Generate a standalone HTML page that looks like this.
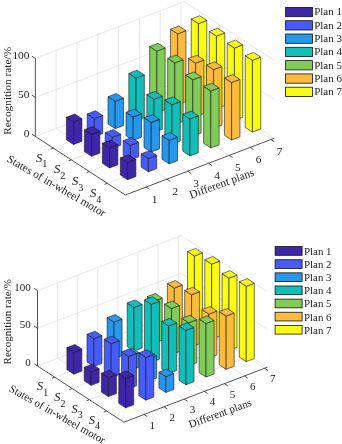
<!DOCTYPE html><html><head><meta charset="utf-8"><title>Recognition rate</title><style>html,body{margin:0;padding:0;background:#fff}svg{display:block}text{font-family:"Liberation Serif","DejaVu Serif",serif;fill:#1a1a1a}</style></head><body>
<svg width="342" height="444" viewBox="0 0 342 444">
<rect width="342" height="444" fill="#fff"/>
<g><path d="M56.16,128.47 L56.16,50.47" stroke="#dcdcdc" stroke-width="0.7" fill="none"/>
<path d="M56.16,128.47 L146.11,187.07" stroke="#dcdcdc" stroke-width="0.7" fill="none"/>
<path d="M76.97,120.54 L76.97,42.54" stroke="#dcdcdc" stroke-width="0.7" fill="none"/>
<path d="M76.97,120.54 L166.92,179.14" stroke="#dcdcdc" stroke-width="0.7" fill="none"/>
<path d="M97.78,112.61 L97.78,34.61" stroke="#dcdcdc" stroke-width="0.7" fill="none"/>
<path d="M97.78,112.61 L187.73,171.21" stroke="#dcdcdc" stroke-width="0.7" fill="none"/>
<path d="M118.59,104.68 L118.59,26.68" stroke="#dcdcdc" stroke-width="0.7" fill="none"/>
<path d="M118.59,104.68 L208.54,163.28" stroke="#dcdcdc" stroke-width="0.7" fill="none"/>
<path d="M139.41,96.75 L139.41,18.75" stroke="#dcdcdc" stroke-width="0.7" fill="none"/>
<path d="M139.41,96.75 L229.36,155.35" stroke="#dcdcdc" stroke-width="0.7" fill="none"/>
<path d="M160.22,88.82 L160.22,10.82" stroke="#dcdcdc" stroke-width="0.7" fill="none"/>
<path d="M160.22,88.82 L250.17,147.42" stroke="#dcdcdc" stroke-width="0.7" fill="none"/>
<path d="M181.03,80.89 L181.03,2.89" stroke="#dcdcdc" stroke-width="0.7" fill="none"/>
<path d="M181.03,80.89 L270.98,139.49" stroke="#dcdcdc" stroke-width="0.7" fill="none"/>
<path d="M202.14,91.42 L202.14,13.42" stroke="#dcdcdc" stroke-width="0.7" fill="none"/>
<path d="M53.34,148.12 L202.14,91.42" stroke="#dcdcdc" stroke-width="0.7" fill="none"/>
<path d="M220.13,103.14 L220.13,25.14" stroke="#dcdcdc" stroke-width="0.7" fill="none"/>
<path d="M71.33,159.84 L220.13,103.14" stroke="#dcdcdc" stroke-width="0.7" fill="none"/>
<path d="M238.12,114.86 L238.12,36.86" stroke="#dcdcdc" stroke-width="0.7" fill="none"/>
<path d="M89.32,171.56 L238.12,114.86" stroke="#dcdcdc" stroke-width="0.7" fill="none"/>
<path d="M256.11,126.58 L256.11,48.58" stroke="#dcdcdc" stroke-width="0.7" fill="none"/>
<path d="M107.31,183.28 L256.11,126.58" stroke="#dcdcdc" stroke-width="0.7" fill="none"/>
<path d="M35.35,136.40 L184.15,79.70 L274.10,138.30" stroke="#dcdcdc" stroke-width="0.7" fill="none"/>
<path d="M35.35,97.40 L184.15,40.70 L274.10,99.30" stroke="#dcdcdc" stroke-width="0.7" fill="none"/>
<path d="M35.35,58.40 L184.15,1.70 L274.10,60.30" stroke="#dcdcdc" stroke-width="0.7" fill="none"/>
<path d="M35.35,58.40 L35.35,136.40 L125.30,195.00 L274.10,138.30" stroke="#262626" stroke-width="0.8" fill="none"/>
<path d="M146.11,187.07 L149.46,189.25" stroke="#262626" stroke-width="0.8" fill="none"/>
<path d="M166.92,179.14 L170.27,181.32" stroke="#262626" stroke-width="0.8" fill="none"/>
<path d="M187.73,171.21 L191.09,173.39" stroke="#262626" stroke-width="0.8" fill="none"/>
<path d="M208.54,163.28 L211.90,165.46" stroke="#262626" stroke-width="0.8" fill="none"/>
<path d="M229.36,155.35 L232.71,157.53" stroke="#262626" stroke-width="0.8" fill="none"/>
<path d="M250.17,147.42 L253.52,149.60" stroke="#262626" stroke-width="0.8" fill="none"/>
<path d="M270.98,139.49 L274.33,141.67" stroke="#262626" stroke-width="0.8" fill="none"/>
<path d="M53.34,148.12 L50.54,149.19" stroke="#262626" stroke-width="0.8" fill="none"/>
<path d="M71.33,159.84 L68.53,160.91" stroke="#262626" stroke-width="0.8" fill="none"/>
<path d="M89.32,171.56 L86.52,172.63" stroke="#262626" stroke-width="0.8" fill="none"/>
<path d="M107.31,183.28 L104.51,184.35" stroke="#262626" stroke-width="0.8" fill="none"/>
<path d="M35.35,136.40 L32.00,134.22" stroke="#262626" stroke-width="0.8" fill="none"/>
<path d="M35.35,97.40 L32.00,95.22" stroke="#262626" stroke-width="0.8" fill="none"/>
<path d="M35.35,58.40 L32.00,56.22" stroke="#262626" stroke-width="0.8" fill="none"/>
<polygon points="191.26,92.25 198.45,96.94 198.45,23.62 191.26,18.93" fill="#F9FB15" stroke="#1a1a1a" stroke-width="0.6" stroke-linejoin="round"/>
<polygon points="198.45,96.94 206.78,93.77 206.78,20.45 198.45,23.62" fill="#F9FB15" stroke="#1a1a1a" stroke-width="0.6" stroke-linejoin="round"/>
<polygon points="191.26,18.93 198.45,23.62 206.78,20.45 199.58,15.76" fill="#F9FB15" stroke="#1a1a1a" stroke-width="0.6" stroke-linejoin="round"/>
<polygon points="170.45,100.18 177.64,104.87 177.64,33.89 170.45,29.20" fill="#FBBC3D" stroke="#1a1a1a" stroke-width="0.6" stroke-linejoin="round"/>
<polygon points="177.64,104.87 185.97,101.70 185.97,30.72 177.64,33.89" fill="#FBBC3D" stroke="#1a1a1a" stroke-width="0.6" stroke-linejoin="round"/>
<polygon points="170.45,29.20 177.64,33.89 185.97,30.72 178.77,26.03" fill="#FBBC3D" stroke="#1a1a1a" stroke-width="0.6" stroke-linejoin="round"/>
<polygon points="149.64,108.11 156.83,112.80 156.83,51.18 149.64,46.49" fill="#81CC59" stroke="#1a1a1a" stroke-width="0.6" stroke-linejoin="round"/>
<polygon points="156.83,112.80 165.16,109.63 165.16,48.01 156.83,51.18" fill="#81CC59" stroke="#1a1a1a" stroke-width="0.6" stroke-linejoin="round"/>
<polygon points="149.64,46.49 156.83,51.18 165.16,48.01 157.96,43.32" fill="#81CC59" stroke="#1a1a1a" stroke-width="0.6" stroke-linejoin="round"/>
<polygon points="128.82,116.04 136.02,120.73 136.02,78.06 128.82,73.38" fill="#12BEB9" stroke="#1a1a1a" stroke-width="0.6" stroke-linejoin="round"/>
<polygon points="136.02,120.73 144.34,117.56 144.34,74.89 136.02,78.06" fill="#12BEB9" stroke="#1a1a1a" stroke-width="0.6" stroke-linejoin="round"/>
<polygon points="128.82,73.38 136.02,78.06 144.34,74.89 137.15,70.20" fill="#12BEB9" stroke="#1a1a1a" stroke-width="0.6" stroke-linejoin="round"/>
<polygon points="108.01,123.97 115.21,128.66 115.21,101.36 108.01,96.67" fill="#2797EB" stroke="#1a1a1a" stroke-width="0.6" stroke-linejoin="round"/>
<polygon points="115.21,128.66 123.53,125.49 123.53,98.19 115.21,101.36" fill="#2797EB" stroke="#1a1a1a" stroke-width="0.6" stroke-linejoin="round"/>
<polygon points="108.01,96.67 115.21,101.36 123.53,98.19 116.34,93.50" fill="#2797EB" stroke="#1a1a1a" stroke-width="0.6" stroke-linejoin="round"/>
<polygon points="87.20,131.90 94.40,136.59 94.40,118.65 87.20,113.96" fill="#475BF9" stroke="#1a1a1a" stroke-width="0.6" stroke-linejoin="round"/>
<polygon points="94.40,136.59 102.72,133.42 102.72,115.48 94.40,118.65" fill="#475BF9" stroke="#1a1a1a" stroke-width="0.6" stroke-linejoin="round"/>
<polygon points="87.20,113.96 94.40,118.65 102.72,115.48 95.53,110.79" fill="#475BF9" stroke="#1a1a1a" stroke-width="0.6" stroke-linejoin="round"/>
<polygon points="66.39,139.83 73.59,144.52 73.59,121.90 66.39,117.21" fill="#3E26A8" stroke="#1a1a1a" stroke-width="0.6" stroke-linejoin="round"/>
<polygon points="73.59,144.52 81.91,141.35 81.91,118.73 73.59,121.90" fill="#3E26A8" stroke="#1a1a1a" stroke-width="0.6" stroke-linejoin="round"/>
<polygon points="66.39,117.21 73.59,121.90 81.91,118.73 74.72,114.04" fill="#3E26A8" stroke="#1a1a1a" stroke-width="0.6" stroke-linejoin="round"/>
<polygon points="209.25,103.97 216.44,108.66 216.44,36.12 209.25,31.43" fill="#F9FB15" stroke="#1a1a1a" stroke-width="0.6" stroke-linejoin="round"/>
<polygon points="216.44,108.66 224.77,105.49 224.77,32.95 216.44,36.12" fill="#F9FB15" stroke="#1a1a1a" stroke-width="0.6" stroke-linejoin="round"/>
<polygon points="209.25,31.43 216.44,36.12 224.77,32.95 217.57,28.26" fill="#F9FB15" stroke="#1a1a1a" stroke-width="0.6" stroke-linejoin="round"/>
<polygon points="188.44,111.90 195.63,116.59 195.63,63.16 188.44,58.47" fill="#FBBC3D" stroke="#1a1a1a" stroke-width="0.6" stroke-linejoin="round"/>
<polygon points="195.63,116.59 203.96,113.42 203.96,59.99 195.63,63.16" fill="#FBBC3D" stroke="#1a1a1a" stroke-width="0.6" stroke-linejoin="round"/>
<polygon points="188.44,58.47 195.63,63.16 203.96,59.99 196.76,55.30" fill="#FBBC3D" stroke="#1a1a1a" stroke-width="0.6" stroke-linejoin="round"/>
<polygon points="167.63,119.83 174.82,124.52 174.82,62.90 167.63,58.21" fill="#81CC59" stroke="#1a1a1a" stroke-width="0.6" stroke-linejoin="round"/>
<polygon points="174.82,124.52 183.15,121.35 183.15,59.73 174.82,62.90" fill="#81CC59" stroke="#1a1a1a" stroke-width="0.6" stroke-linejoin="round"/>
<polygon points="167.63,58.21 174.82,62.90 183.15,59.73 175.95,55.04" fill="#81CC59" stroke="#1a1a1a" stroke-width="0.6" stroke-linejoin="round"/>
<polygon points="146.81,127.76 154.01,132.45 154.01,99.30 146.81,94.61" fill="#12BEB9" stroke="#1a1a1a" stroke-width="0.6" stroke-linejoin="round"/>
<polygon points="154.01,132.45 162.33,129.28 162.33,96.13 154.01,99.30" fill="#12BEB9" stroke="#1a1a1a" stroke-width="0.6" stroke-linejoin="round"/>
<polygon points="146.81,94.61 154.01,99.30 162.33,96.13 155.14,91.44" fill="#12BEB9" stroke="#1a1a1a" stroke-width="0.6" stroke-linejoin="round"/>
<polygon points="126.00,135.69 133.20,140.38 133.20,116.98 126.00,112.29" fill="#2797EB" stroke="#1a1a1a" stroke-width="0.6" stroke-linejoin="round"/>
<polygon points="133.20,140.38 141.52,137.21 141.52,113.81 133.20,116.98" fill="#2797EB" stroke="#1a1a1a" stroke-width="0.6" stroke-linejoin="round"/>
<polygon points="126.00,112.29 133.20,116.98 141.52,113.81 134.33,109.12" fill="#2797EB" stroke="#1a1a1a" stroke-width="0.6" stroke-linejoin="round"/>
<polygon points="105.19,143.62 112.39,148.31 112.39,137.39 105.19,132.70" fill="#475BF9" stroke="#1a1a1a" stroke-width="0.6" stroke-linejoin="round"/>
<polygon points="112.39,148.31 120.71,145.14 120.71,134.22 112.39,137.39" fill="#475BF9" stroke="#1a1a1a" stroke-width="0.6" stroke-linejoin="round"/>
<polygon points="105.19,132.70 112.39,137.39 120.71,134.22 113.52,129.53" fill="#475BF9" stroke="#1a1a1a" stroke-width="0.6" stroke-linejoin="round"/>
<polygon points="84.38,151.55 91.58,156.24 91.58,134.40 84.38,129.71" fill="#3E26A8" stroke="#1a1a1a" stroke-width="0.6" stroke-linejoin="round"/>
<polygon points="91.58,156.24 99.90,153.07 99.90,131.23 91.58,134.40" fill="#3E26A8" stroke="#1a1a1a" stroke-width="0.6" stroke-linejoin="round"/>
<polygon points="84.38,129.71 91.58,134.40 99.90,131.23 92.71,126.54" fill="#3E26A8" stroke="#1a1a1a" stroke-width="0.6" stroke-linejoin="round"/>
<polygon points="227.24,115.69 234.43,120.38 234.43,48.00 227.24,43.31" fill="#F9FB15" stroke="#1a1a1a" stroke-width="0.6" stroke-linejoin="round"/>
<polygon points="234.43,120.38 242.76,117.21 242.76,44.82 234.43,48.00" fill="#F9FB15" stroke="#1a1a1a" stroke-width="0.6" stroke-linejoin="round"/>
<polygon points="227.24,43.31 234.43,48.00 242.76,44.82 235.56,40.14" fill="#F9FB15" stroke="#1a1a1a" stroke-width="0.6" stroke-linejoin="round"/>
<polygon points="206.43,123.62 213.62,128.31 213.62,69.65 206.43,64.97" fill="#FBBC3D" stroke="#1a1a1a" stroke-width="0.6" stroke-linejoin="round"/>
<polygon points="213.62,128.31 221.95,125.14 221.95,66.48 213.62,69.65" fill="#FBBC3D" stroke="#1a1a1a" stroke-width="0.6" stroke-linejoin="round"/>
<polygon points="206.43,64.97 213.62,69.65 221.95,66.48 214.75,61.79" fill="#FBBC3D" stroke="#1a1a1a" stroke-width="0.6" stroke-linejoin="round"/>
<polygon points="185.62,131.55 192.81,136.24 192.81,79.77 185.62,75.08" fill="#81CC59" stroke="#1a1a1a" stroke-width="0.6" stroke-linejoin="round"/>
<polygon points="192.81,136.24 201.14,133.07 201.14,76.60 192.81,79.77" fill="#81CC59" stroke="#1a1a1a" stroke-width="0.6" stroke-linejoin="round"/>
<polygon points="185.62,75.08 192.81,79.77 201.14,76.60 193.94,71.91" fill="#81CC59" stroke="#1a1a1a" stroke-width="0.6" stroke-linejoin="round"/>
<polygon points="164.80,139.48 172.00,144.17 172.00,104.78 164.80,100.09" fill="#12BEB9" stroke="#1a1a1a" stroke-width="0.6" stroke-linejoin="round"/>
<polygon points="172.00,144.17 180.32,141.00 180.32,101.61 172.00,104.78" fill="#12BEB9" stroke="#1a1a1a" stroke-width="0.6" stroke-linejoin="round"/>
<polygon points="164.80,100.09 172.00,104.78 180.32,101.61 173.13,96.92" fill="#12BEB9" stroke="#1a1a1a" stroke-width="0.6" stroke-linejoin="round"/>
<polygon points="143.99,147.41 151.19,152.10 151.19,122.46 143.99,117.77" fill="#2797EB" stroke="#1a1a1a" stroke-width="0.6" stroke-linejoin="round"/>
<polygon points="151.19,152.10 159.51,148.93 159.51,119.29 151.19,122.46" fill="#2797EB" stroke="#1a1a1a" stroke-width="0.6" stroke-linejoin="round"/>
<polygon points="143.99,117.77 151.19,122.46 159.51,119.29 152.32,114.60" fill="#2797EB" stroke="#1a1a1a" stroke-width="0.6" stroke-linejoin="round"/>
<polygon points="123.18,155.34 130.38,160.03 130.38,145.44 123.18,140.76" fill="#475BF9" stroke="#1a1a1a" stroke-width="0.6" stroke-linejoin="round"/>
<polygon points="130.38,160.03 138.70,156.86 138.70,142.27 130.38,145.44" fill="#475BF9" stroke="#1a1a1a" stroke-width="0.6" stroke-linejoin="round"/>
<polygon points="123.18,140.76 130.38,145.44 138.70,142.27 131.51,137.58" fill="#475BF9" stroke="#1a1a1a" stroke-width="0.6" stroke-linejoin="round"/>
<polygon points="102.37,163.27 109.57,167.96 109.57,147.91 102.37,143.23" fill="#3E26A8" stroke="#1a1a1a" stroke-width="0.6" stroke-linejoin="round"/>
<polygon points="109.57,167.96 117.89,164.79 117.89,144.74 109.57,147.91" fill="#3E26A8" stroke="#1a1a1a" stroke-width="0.6" stroke-linejoin="round"/>
<polygon points="102.37,143.23 109.57,147.91 117.89,144.74 110.70,140.05" fill="#3E26A8" stroke="#1a1a1a" stroke-width="0.6" stroke-linejoin="round"/>
<polygon points="245.23,127.41 252.42,132.10 252.42,60.34 245.23,55.65" fill="#F9FB15" stroke="#1a1a1a" stroke-width="0.6" stroke-linejoin="round"/>
<polygon points="252.42,132.10 260.75,128.93 260.75,57.17 252.42,60.34" fill="#F9FB15" stroke="#1a1a1a" stroke-width="0.6" stroke-linejoin="round"/>
<polygon points="245.23,55.65 252.42,60.34 260.75,57.17 253.55,52.48" fill="#F9FB15" stroke="#1a1a1a" stroke-width="0.6" stroke-linejoin="round"/>
<polygon points="224.42,135.34 231.61,140.03 231.61,82.54 224.42,77.86" fill="#FBBC3D" stroke="#1a1a1a" stroke-width="0.6" stroke-linejoin="round"/>
<polygon points="231.61,140.03 239.94,136.86 239.94,79.37 231.61,82.54" fill="#FBBC3D" stroke="#1a1a1a" stroke-width="0.6" stroke-linejoin="round"/>
<polygon points="224.42,77.86 231.61,82.54 239.94,79.37 232.74,74.68" fill="#FBBC3D" stroke="#1a1a1a" stroke-width="0.6" stroke-linejoin="round"/>
<polygon points="203.61,143.27 210.80,147.96 210.80,91.02 203.61,86.33" fill="#81CC59" stroke="#1a1a1a" stroke-width="0.6" stroke-linejoin="round"/>
<polygon points="210.80,147.96 219.13,144.79 219.13,87.85 210.80,91.02" fill="#81CC59" stroke="#1a1a1a" stroke-width="0.6" stroke-linejoin="round"/>
<polygon points="203.61,86.33 210.80,91.02 219.13,87.85 211.93,83.16" fill="#81CC59" stroke="#1a1a1a" stroke-width="0.6" stroke-linejoin="round"/>
<polygon points="182.79,151.20 189.99,155.89 189.99,119.00 182.79,114.31" fill="#12BEB9" stroke="#1a1a1a" stroke-width="0.6" stroke-linejoin="round"/>
<polygon points="189.99,155.89 198.31,152.72 198.31,115.82 189.99,119.00" fill="#12BEB9" stroke="#1a1a1a" stroke-width="0.6" stroke-linejoin="round"/>
<polygon points="182.79,114.31 189.99,119.00 198.31,115.82 191.12,111.14" fill="#12BEB9" stroke="#1a1a1a" stroke-width="0.6" stroke-linejoin="round"/>
<polygon points="161.98,159.13 169.18,163.82 169.18,140.42 161.98,135.73" fill="#2797EB" stroke="#1a1a1a" stroke-width="0.6" stroke-linejoin="round"/>
<polygon points="169.18,163.82 177.50,160.65 177.50,137.25 169.18,140.42" fill="#2797EB" stroke="#1a1a1a" stroke-width="0.6" stroke-linejoin="round"/>
<polygon points="161.98,135.73 169.18,140.42 177.50,137.25 170.31,132.56" fill="#2797EB" stroke="#1a1a1a" stroke-width="0.6" stroke-linejoin="round"/>
<polygon points="141.17,167.06 148.37,171.75 148.37,158.49 141.17,153.80" fill="#475BF9" stroke="#1a1a1a" stroke-width="0.6" stroke-linejoin="round"/>
<polygon points="148.37,171.75 156.69,168.58 156.69,155.32 148.37,158.49" fill="#475BF9" stroke="#1a1a1a" stroke-width="0.6" stroke-linejoin="round"/>
<polygon points="141.17,153.80 148.37,158.49 156.69,155.32 149.50,150.63" fill="#475BF9" stroke="#1a1a1a" stroke-width="0.6" stroke-linejoin="round"/>
<polygon points="120.36,174.99 127.56,179.68 127.56,162.52 120.36,157.83" fill="#3E26A8" stroke="#1a1a1a" stroke-width="0.6" stroke-linejoin="round"/>
<polygon points="127.56,179.68 135.88,176.51 135.88,159.35 127.56,162.52" fill="#3E26A8" stroke="#1a1a1a" stroke-width="0.6" stroke-linejoin="round"/>
<polygon points="120.36,157.83 127.56,162.52 135.88,159.35 128.69,154.66" fill="#3E26A8" stroke="#1a1a1a" stroke-width="0.6" stroke-linejoin="round"/></g>
<g opacity="0.999"><text x="29.4" y="137.4" font-size="11.35" text-anchor="end">0</text>
<text x="29.4" y="98.4" font-size="11.35" text-anchor="end">50</text>
<text x="29.4" y="59.4" font-size="11.35" text-anchor="end">100</text>
<text x="154.6" y="202.6" font-size="11.35" text-anchor="middle">1</text>
<text x="175.4" y="194.6" font-size="11.35" text-anchor="middle">2</text>
<text x="196.2" y="186.7" font-size="11.35" text-anchor="middle">3</text>
<text x="217.0" y="178.8" font-size="11.35" text-anchor="middle">4</text>
<text x="237.9" y="170.8" font-size="11.35" text-anchor="middle">5</text>
<text x="258.7" y="162.9" font-size="11.35" text-anchor="middle">6</text>
<text x="279.5" y="155.0" font-size="11.35" text-anchor="middle">7</text>
<text x="41.7" y="161.6" font-size="12.71" text-anchor="middle"><tspan font-style="italic">S</tspan><tspan font-size="10.17" dy="5.72">1</tspan></text>
<text x="59.7" y="173.3" font-size="12.71" text-anchor="middle"><tspan font-style="italic">S</tspan><tspan font-size="10.17" dy="5.72">2</tspan></text>
<text x="77.7" y="185.1" font-size="12.71" text-anchor="middle"><tspan font-style="italic">S</tspan><tspan font-size="10.17" dy="5.72">3</tspan></text>
<text x="95.7" y="196.8" font-size="12.71" text-anchor="middle"><tspan font-style="italic">S</tspan><tspan font-size="10.17" dy="5.72">4</tspan></text>
<text transform="translate(223,187) rotate(-20)" font-size="11.35" text-anchor="middle">Different plans</text>
<text transform="translate(54.7,189) rotate(30)" font-size="11.35" text-anchor="middle">States of in-wheel motor</text>
<text transform="translate(11.4,90.8) rotate(-90)" font-size="11.35" text-anchor="middle">Recognition rate/%</text>
<rect x="285.6" y="7.40" width="26.8" height="9.3" fill="#3E26A8" stroke="#111" stroke-width="0.8"/>
<text x="314.2" y="15.45" font-size="11">Plan 1</text>
<rect x="285.6" y="20.70" width="26.8" height="9.3" fill="#475BF9" stroke="#111" stroke-width="0.8"/>
<text x="314.2" y="28.75" font-size="11">Plan 2</text>
<rect x="285.6" y="34.00" width="26.8" height="9.3" fill="#2797EB" stroke="#111" stroke-width="0.8"/>
<text x="314.2" y="42.05" font-size="11">Plan 3</text>
<rect x="285.6" y="47.30" width="26.8" height="9.3" fill="#12BEB9" stroke="#111" stroke-width="0.8"/>
<text x="314.2" y="55.35" font-size="11">Plan 4</text>
<rect x="285.6" y="60.60" width="26.8" height="9.3" fill="#81CC59" stroke="#111" stroke-width="0.8"/>
<text x="314.2" y="68.65" font-size="11">Plan 5</text>
<rect x="285.6" y="73.90" width="26.8" height="9.3" fill="#FBBC3D" stroke="#111" stroke-width="0.8"/>
<text x="314.2" y="81.95" font-size="11">Plan 6</text>
<rect x="285.6" y="87.20" width="26.8" height="9.3" fill="#F9FB15" stroke="#111" stroke-width="0.8"/>
<text x="314.2" y="95.25" font-size="11">Plan 7</text></g>
<g><path d="M57.60,358.30 L57.60,282.90" stroke="#dcdcdc" stroke-width="0.7" fill="none"/>
<path d="M57.60,358.30 L144.00,414.50" stroke="#dcdcdc" stroke-width="0.7" fill="none"/>
<path d="M77.70,350.59 L77.70,275.19" stroke="#dcdcdc" stroke-width="0.7" fill="none"/>
<path d="M77.70,350.59 L164.10,406.79" stroke="#dcdcdc" stroke-width="0.7" fill="none"/>
<path d="M97.79,342.89 L97.79,267.49" stroke="#dcdcdc" stroke-width="0.7" fill="none"/>
<path d="M97.79,342.89 L184.19,399.09" stroke="#dcdcdc" stroke-width="0.7" fill="none"/>
<path d="M117.89,335.19 L117.89,259.79" stroke="#dcdcdc" stroke-width="0.7" fill="none"/>
<path d="M117.89,335.19 L204.29,391.39" stroke="#dcdcdc" stroke-width="0.7" fill="none"/>
<path d="M137.99,327.48 L137.99,252.08" stroke="#dcdcdc" stroke-width="0.7" fill="none"/>
<path d="M137.99,327.48 L224.39,383.68" stroke="#dcdcdc" stroke-width="0.7" fill="none"/>
<path d="M158.09,319.78 L158.09,244.38" stroke="#dcdcdc" stroke-width="0.7" fill="none"/>
<path d="M158.09,319.78 L244.49,375.98" stroke="#dcdcdc" stroke-width="0.7" fill="none"/>
<path d="M178.19,312.08 L178.19,236.68" stroke="#dcdcdc" stroke-width="0.7" fill="none"/>
<path d="M178.19,312.08 L264.59,368.28" stroke="#dcdcdc" stroke-width="0.7" fill="none"/>
<path d="M198.28,322.24 L198.28,246.84" stroke="#dcdcdc" stroke-width="0.7" fill="none"/>
<path d="M54.78,377.24 L198.28,322.24" stroke="#dcdcdc" stroke-width="0.7" fill="none"/>
<path d="M215.56,333.48 L215.56,258.08" stroke="#dcdcdc" stroke-width="0.7" fill="none"/>
<path d="M72.06,388.48 L215.56,333.48" stroke="#dcdcdc" stroke-width="0.7" fill="none"/>
<path d="M232.84,344.72 L232.84,269.32" stroke="#dcdcdc" stroke-width="0.7" fill="none"/>
<path d="M89.34,399.72 L232.84,344.72" stroke="#dcdcdc" stroke-width="0.7" fill="none"/>
<path d="M250.12,355.96 L250.12,280.56" stroke="#dcdcdc" stroke-width="0.7" fill="none"/>
<path d="M106.62,410.96 L250.12,355.96" stroke="#dcdcdc" stroke-width="0.7" fill="none"/>
<path d="M37.50,366.00 L181.00,311.00 L267.40,367.20" stroke="#dcdcdc" stroke-width="0.7" fill="none"/>
<path d="M37.50,328.30 L181.00,273.30 L267.40,329.50" stroke="#dcdcdc" stroke-width="0.7" fill="none"/>
<path d="M37.50,290.60 L181.00,235.60 L267.40,291.80" stroke="#dcdcdc" stroke-width="0.7" fill="none"/>
<path d="M37.50,290.60 L37.50,366.00 L123.90,422.20 L267.40,367.20" stroke="#262626" stroke-width="0.8" fill="none"/>
<path d="M144.00,414.50 L147.35,416.68" stroke="#262626" stroke-width="0.8" fill="none"/>
<path d="M164.10,406.79 L167.45,408.97" stroke="#262626" stroke-width="0.8" fill="none"/>
<path d="M184.19,399.09 L187.55,401.27" stroke="#262626" stroke-width="0.8" fill="none"/>
<path d="M204.29,391.39 L207.65,393.57" stroke="#262626" stroke-width="0.8" fill="none"/>
<path d="M224.39,383.68 L227.74,385.87" stroke="#262626" stroke-width="0.8" fill="none"/>
<path d="M244.49,375.98 L247.84,378.16" stroke="#262626" stroke-width="0.8" fill="none"/>
<path d="M264.59,368.28 L267.94,370.46" stroke="#262626" stroke-width="0.8" fill="none"/>
<path d="M54.78,377.24 L51.98,378.31" stroke="#262626" stroke-width="0.8" fill="none"/>
<path d="M72.06,388.48 L69.26,389.55" stroke="#262626" stroke-width="0.8" fill="none"/>
<path d="M89.34,399.72 L86.54,400.79" stroke="#262626" stroke-width="0.8" fill="none"/>
<path d="M106.62,410.96 L103.82,412.03" stroke="#262626" stroke-width="0.8" fill="none"/>
<path d="M37.50,366.00 L34.15,363.82" stroke="#262626" stroke-width="0.8" fill="none"/>
<path d="M37.50,328.30 L34.15,326.12" stroke="#262626" stroke-width="0.8" fill="none"/>
<path d="M37.50,290.60 L34.15,288.42" stroke="#262626" stroke-width="0.8" fill="none"/>
<polygon points="187.49,323.41 194.40,327.91 194.40,255.98 187.49,251.48" fill="#F9FB15" stroke="#1a1a1a" stroke-width="0.6" stroke-linejoin="round"/>
<polygon points="194.40,327.91 202.44,324.83 202.44,252.89 194.40,255.98" fill="#F9FB15" stroke="#1a1a1a" stroke-width="0.6" stroke-linejoin="round"/>
<polygon points="187.49,251.48 194.40,255.98 202.44,252.89 195.53,248.40" fill="#F9FB15" stroke="#1a1a1a" stroke-width="0.6" stroke-linejoin="round"/>
<polygon points="167.39,331.11 174.30,335.61 174.30,288.11 167.39,283.61" fill="#FBBC3D" stroke="#1a1a1a" stroke-width="0.6" stroke-linejoin="round"/>
<polygon points="174.30,335.61 182.34,332.53 182.34,285.03 174.30,288.11" fill="#FBBC3D" stroke="#1a1a1a" stroke-width="0.6" stroke-linejoin="round"/>
<polygon points="167.39,283.61 174.30,288.11 182.34,285.03 175.43,280.53" fill="#FBBC3D" stroke="#1a1a1a" stroke-width="0.6" stroke-linejoin="round"/>
<polygon points="147.29,338.82 154.21,343.31 154.21,301.09 147.29,296.59" fill="#81CC59" stroke="#1a1a1a" stroke-width="0.6" stroke-linejoin="round"/>
<polygon points="154.21,343.31 162.25,340.23 162.25,298.01 154.21,301.09" fill="#81CC59" stroke="#1a1a1a" stroke-width="0.6" stroke-linejoin="round"/>
<polygon points="147.29,296.59 154.21,301.09 162.25,298.01 155.33,293.51" fill="#81CC59" stroke="#1a1a1a" stroke-width="0.6" stroke-linejoin="round"/>
<polygon points="127.20,346.52 134.11,351.02 134.11,307.51 127.20,303.01" fill="#12BEB9" stroke="#1a1a1a" stroke-width="0.6" stroke-linejoin="round"/>
<polygon points="134.11,351.02 142.15,347.94 142.15,304.43 134.11,307.51" fill="#12BEB9" stroke="#1a1a1a" stroke-width="0.6" stroke-linejoin="round"/>
<polygon points="127.20,303.01 134.11,307.51 142.15,304.43 135.24,299.93" fill="#12BEB9" stroke="#1a1a1a" stroke-width="0.6" stroke-linejoin="round"/>
<polygon points="107.10,354.22 114.01,358.72 114.01,322.15 107.10,317.65" fill="#2797EB" stroke="#1a1a1a" stroke-width="0.6" stroke-linejoin="round"/>
<polygon points="114.01,358.72 122.05,355.64 122.05,319.07 114.01,322.15" fill="#2797EB" stroke="#1a1a1a" stroke-width="0.6" stroke-linejoin="round"/>
<polygon points="107.10,317.65 114.01,322.15 122.05,319.07 115.14,314.57" fill="#2797EB" stroke="#1a1a1a" stroke-width="0.6" stroke-linejoin="round"/>
<polygon points="87.00,361.93 93.91,366.42 93.91,338.75 87.00,334.25" fill="#475BF9" stroke="#1a1a1a" stroke-width="0.6" stroke-linejoin="round"/>
<polygon points="93.91,366.42 101.95,363.34 101.95,335.67 93.91,338.75" fill="#475BF9" stroke="#1a1a1a" stroke-width="0.6" stroke-linejoin="round"/>
<polygon points="87.00,334.25 93.91,338.75 101.95,335.67 95.04,331.17" fill="#475BF9" stroke="#1a1a1a" stroke-width="0.6" stroke-linejoin="round"/>
<polygon points="66.90,369.63 73.81,374.13 73.81,352.11 66.90,347.61" fill="#3E26A8" stroke="#1a1a1a" stroke-width="0.6" stroke-linejoin="round"/>
<polygon points="73.81,374.13 81.85,371.04 81.85,349.03 73.81,352.11" fill="#3E26A8" stroke="#1a1a1a" stroke-width="0.6" stroke-linejoin="round"/>
<polygon points="66.90,347.61 73.81,352.11 81.85,349.03 74.94,344.53" fill="#3E26A8" stroke="#1a1a1a" stroke-width="0.6" stroke-linejoin="round"/>
<polygon points="204.77,334.65 211.68,339.15 211.68,264.12 204.77,259.63" fill="#F9FB15" stroke="#1a1a1a" stroke-width="0.6" stroke-linejoin="round"/>
<polygon points="211.68,339.15 219.72,336.07 219.72,261.04 211.68,264.12" fill="#F9FB15" stroke="#1a1a1a" stroke-width="0.6" stroke-linejoin="round"/>
<polygon points="204.77,259.63 211.68,264.12 219.72,261.04 212.81,256.55" fill="#F9FB15" stroke="#1a1a1a" stroke-width="0.6" stroke-linejoin="round"/>
<polygon points="184.67,342.35 191.58,346.85 191.58,294.82 184.67,290.33" fill="#FBBC3D" stroke="#1a1a1a" stroke-width="0.6" stroke-linejoin="round"/>
<polygon points="191.58,346.85 199.62,343.77 199.62,291.74 191.58,294.82" fill="#FBBC3D" stroke="#1a1a1a" stroke-width="0.6" stroke-linejoin="round"/>
<polygon points="184.67,290.33 191.58,294.82 199.62,291.74 192.71,287.25" fill="#FBBC3D" stroke="#1a1a1a" stroke-width="0.6" stroke-linejoin="round"/>
<polygon points="164.57,350.06 171.49,354.55 171.49,308.56 164.57,304.06" fill="#81CC59" stroke="#1a1a1a" stroke-width="0.6" stroke-linejoin="round"/>
<polygon points="171.49,354.55 179.53,351.47 179.53,305.48 171.49,308.56" fill="#81CC59" stroke="#1a1a1a" stroke-width="0.6" stroke-linejoin="round"/>
<polygon points="164.57,304.06 171.49,308.56 179.53,305.48 172.61,300.98" fill="#81CC59" stroke="#1a1a1a" stroke-width="0.6" stroke-linejoin="round"/>
<polygon points="144.48,357.76 151.39,362.26 151.39,304.42 144.48,299.93" fill="#12BEB9" stroke="#1a1a1a" stroke-width="0.6" stroke-linejoin="round"/>
<polygon points="151.39,362.26 159.43,359.18 159.43,301.34 151.39,304.42" fill="#12BEB9" stroke="#1a1a1a" stroke-width="0.6" stroke-linejoin="round"/>
<polygon points="144.48,299.93 151.39,304.42 159.43,301.34 152.52,296.85" fill="#12BEB9" stroke="#1a1a1a" stroke-width="0.6" stroke-linejoin="round"/>
<polygon points="124.38,365.46 131.29,369.96 131.29,356.01 124.38,351.51" fill="#2797EB" stroke="#1a1a1a" stroke-width="0.6" stroke-linejoin="round"/>
<polygon points="131.29,369.96 139.33,366.88 139.33,352.93 131.29,356.01" fill="#2797EB" stroke="#1a1a1a" stroke-width="0.6" stroke-linejoin="round"/>
<polygon points="124.38,351.51 131.29,356.01 139.33,352.93 132.42,348.43" fill="#2797EB" stroke="#1a1a1a" stroke-width="0.6" stroke-linejoin="round"/>
<polygon points="104.28,373.17 111.19,377.66 111.19,343.73 104.28,339.24" fill="#475BF9" stroke="#1a1a1a" stroke-width="0.6" stroke-linejoin="round"/>
<polygon points="111.19,377.66 119.23,374.58 119.23,340.65 111.19,343.73" fill="#475BF9" stroke="#1a1a1a" stroke-width="0.6" stroke-linejoin="round"/>
<polygon points="104.28,339.24 111.19,343.73 119.23,340.65 112.32,336.16" fill="#475BF9" stroke="#1a1a1a" stroke-width="0.6" stroke-linejoin="round"/>
<polygon points="84.18,380.87 91.09,385.37 91.09,371.79 84.18,367.30" fill="#3E26A8" stroke="#1a1a1a" stroke-width="0.6" stroke-linejoin="round"/>
<polygon points="91.09,385.37 99.13,382.28 99.13,368.71 91.09,371.79" fill="#3E26A8" stroke="#1a1a1a" stroke-width="0.6" stroke-linejoin="round"/>
<polygon points="84.18,367.30 91.09,371.79 99.13,368.71 92.22,364.22" fill="#3E26A8" stroke="#1a1a1a" stroke-width="0.6" stroke-linejoin="round"/>
<polygon points="222.05,345.89 228.96,350.39 228.96,278.23 222.05,273.73" fill="#F9FB15" stroke="#1a1a1a" stroke-width="0.6" stroke-linejoin="round"/>
<polygon points="228.96,350.39 237.00,347.31 237.00,275.15 228.96,278.23" fill="#F9FB15" stroke="#1a1a1a" stroke-width="0.6" stroke-linejoin="round"/>
<polygon points="222.05,273.73 228.96,278.23 237.00,275.15 230.09,270.65" fill="#F9FB15" stroke="#1a1a1a" stroke-width="0.6" stroke-linejoin="round"/>
<polygon points="201.95,353.59 208.86,358.09 208.86,314.13 201.95,309.64" fill="#FBBC3D" stroke="#1a1a1a" stroke-width="0.6" stroke-linejoin="round"/>
<polygon points="208.86,358.09 216.90,355.01 216.90,311.05 208.86,314.13" fill="#FBBC3D" stroke="#1a1a1a" stroke-width="0.6" stroke-linejoin="round"/>
<polygon points="201.95,309.64 208.86,314.13 216.90,311.05 209.99,306.55" fill="#FBBC3D" stroke="#1a1a1a" stroke-width="0.6" stroke-linejoin="round"/>
<polygon points="181.85,361.30 188.77,365.79 188.77,322.82 181.85,318.32" fill="#81CC59" stroke="#1a1a1a" stroke-width="0.6" stroke-linejoin="round"/>
<polygon points="188.77,365.79 196.81,362.71 196.81,319.73 188.77,322.82" fill="#81CC59" stroke="#1a1a1a" stroke-width="0.6" stroke-linejoin="round"/>
<polygon points="181.85,318.32 188.77,322.82 196.81,319.73 189.89,315.24" fill="#81CC59" stroke="#1a1a1a" stroke-width="0.6" stroke-linejoin="round"/>
<polygon points="161.76,369.00 168.67,373.50 168.67,325.99 161.76,321.50" fill="#12BEB9" stroke="#1a1a1a" stroke-width="0.6" stroke-linejoin="round"/>
<polygon points="168.67,373.50 176.71,370.42 176.71,322.91 168.67,325.99" fill="#12BEB9" stroke="#1a1a1a" stroke-width="0.6" stroke-linejoin="round"/>
<polygon points="161.76,321.50 168.67,325.99 176.71,322.91 169.80,318.42" fill="#12BEB9" stroke="#1a1a1a" stroke-width="0.6" stroke-linejoin="round"/>
<polygon points="141.66,376.70 148.57,381.20 148.57,359.03 141.66,354.54" fill="#2797EB" stroke="#1a1a1a" stroke-width="0.6" stroke-linejoin="round"/>
<polygon points="148.57,381.20 156.61,378.12 156.61,355.95 148.57,359.03" fill="#2797EB" stroke="#1a1a1a" stroke-width="0.6" stroke-linejoin="round"/>
<polygon points="141.66,354.54 148.57,359.03 156.61,355.95 149.70,351.45" fill="#2797EB" stroke="#1a1a1a" stroke-width="0.6" stroke-linejoin="round"/>
<polygon points="121.56,384.41 128.47,388.90 128.47,356.48 121.56,351.98" fill="#475BF9" stroke="#1a1a1a" stroke-width="0.6" stroke-linejoin="round"/>
<polygon points="128.47,388.90 136.51,385.82 136.51,353.40 128.47,356.48" fill="#475BF9" stroke="#1a1a1a" stroke-width="0.6" stroke-linejoin="round"/>
<polygon points="121.56,351.98 128.47,356.48 136.51,353.40 129.60,348.90" fill="#475BF9" stroke="#1a1a1a" stroke-width="0.6" stroke-linejoin="round"/>
<polygon points="101.46,392.11 108.37,396.61 108.37,377.76 101.46,373.26" fill="#3E26A8" stroke="#1a1a1a" stroke-width="0.6" stroke-linejoin="round"/>
<polygon points="108.37,396.61 116.41,393.52 116.41,374.67 108.37,377.76" fill="#3E26A8" stroke="#1a1a1a" stroke-width="0.6" stroke-linejoin="round"/>
<polygon points="101.46,373.26 108.37,377.76 116.41,374.67 109.50,370.18" fill="#3E26A8" stroke="#1a1a1a" stroke-width="0.6" stroke-linejoin="round"/>
<polygon points="239.33,357.13 246.24,361.63 246.24,286.23 239.33,281.73" fill="#F9FB15" stroke="#1a1a1a" stroke-width="0.6" stroke-linejoin="round"/>
<polygon points="246.24,361.63 254.28,358.55 254.28,283.15 246.24,286.23" fill="#F9FB15" stroke="#1a1a1a" stroke-width="0.6" stroke-linejoin="round"/>
<polygon points="239.33,281.73 246.24,286.23 254.28,283.15 247.37,278.65" fill="#F9FB15" stroke="#1a1a1a" stroke-width="0.6" stroke-linejoin="round"/>
<polygon points="219.23,364.83 226.14,369.33 226.14,316.10 219.23,311.60" fill="#FBBC3D" stroke="#1a1a1a" stroke-width="0.6" stroke-linejoin="round"/>
<polygon points="226.14,369.33 234.18,366.25 234.18,313.02 226.14,316.10" fill="#FBBC3D" stroke="#1a1a1a" stroke-width="0.6" stroke-linejoin="round"/>
<polygon points="219.23,311.60 226.14,316.10 234.18,313.02 227.27,308.52" fill="#FBBC3D" stroke="#1a1a1a" stroke-width="0.6" stroke-linejoin="round"/>
<polygon points="199.13,372.54 206.05,377.03 206.05,323.50 199.13,319.00" fill="#81CC59" stroke="#1a1a1a" stroke-width="0.6" stroke-linejoin="round"/>
<polygon points="206.05,377.03 214.09,373.95 214.09,320.42 206.05,323.50" fill="#81CC59" stroke="#1a1a1a" stroke-width="0.6" stroke-linejoin="round"/>
<polygon points="199.13,319.00 206.05,323.50 214.09,320.42 207.17,315.92" fill="#81CC59" stroke="#1a1a1a" stroke-width="0.6" stroke-linejoin="round"/>
<polygon points="179.04,380.24 185.95,384.74 185.95,330.45 179.04,325.95" fill="#12BEB9" stroke="#1a1a1a" stroke-width="0.6" stroke-linejoin="round"/>
<polygon points="185.95,384.74 193.99,381.66 193.99,327.37 185.95,330.45" fill="#12BEB9" stroke="#1a1a1a" stroke-width="0.6" stroke-linejoin="round"/>
<polygon points="179.04,325.95 185.95,330.45 193.99,327.37 187.08,322.87" fill="#12BEB9" stroke="#1a1a1a" stroke-width="0.6" stroke-linejoin="round"/>
<polygon points="158.94,387.94 165.85,392.44 165.85,376.61 158.94,372.11" fill="#2797EB" stroke="#1a1a1a" stroke-width="0.6" stroke-linejoin="round"/>
<polygon points="165.85,392.44 173.89,389.36 173.89,373.52 165.85,376.61" fill="#2797EB" stroke="#1a1a1a" stroke-width="0.6" stroke-linejoin="round"/>
<polygon points="158.94,372.11 165.85,376.61 173.89,373.52 166.98,369.03" fill="#2797EB" stroke="#1a1a1a" stroke-width="0.6" stroke-linejoin="round"/>
<polygon points="138.84,395.65 145.75,400.14 145.75,357.39 138.84,352.89" fill="#475BF9" stroke="#1a1a1a" stroke-width="0.6" stroke-linejoin="round"/>
<polygon points="145.75,400.14 153.79,397.06 153.79,354.31 145.75,357.39" fill="#475BF9" stroke="#1a1a1a" stroke-width="0.6" stroke-linejoin="round"/>
<polygon points="138.84,352.89 145.75,357.39 153.79,354.31 146.88,349.81" fill="#475BF9" stroke="#1a1a1a" stroke-width="0.6" stroke-linejoin="round"/>
<polygon points="118.74,403.35 125.65,407.85 125.65,378.44 118.74,373.94" fill="#3E26A8" stroke="#1a1a1a" stroke-width="0.6" stroke-linejoin="round"/>
<polygon points="125.65,407.85 133.69,404.76 133.69,375.36 125.65,378.44" fill="#3E26A8" stroke="#1a1a1a" stroke-width="0.6" stroke-linejoin="round"/>
<polygon points="118.74,373.94 125.65,378.44 133.69,375.36 126.78,370.86" fill="#3E26A8" stroke="#1a1a1a" stroke-width="0.6" stroke-linejoin="round"/></g>
<g opacity="0.999"><text x="30.7" y="365.9" font-size="11.0" text-anchor="end">0</text>
<text x="30.7" y="328.2" font-size="11.0" text-anchor="end">50</text>
<text x="30.7" y="290.5" font-size="11.0" text-anchor="end">100</text>
<text x="152.2" y="428.5" font-size="11.0" text-anchor="middle">1</text>
<text x="172.3" y="420.8" font-size="11.0" text-anchor="middle">2</text>
<text x="192.4" y="413.1" font-size="11.0" text-anchor="middle">3</text>
<text x="212.5" y="405.4" font-size="11.0" text-anchor="middle">4</text>
<text x="232.6" y="397.7" font-size="11.0" text-anchor="middle">5</text>
<text x="252.7" y="390.0" font-size="11.0" text-anchor="middle">6</text>
<text x="272.8" y="382.3" font-size="11.0" text-anchor="middle">7</text>
<text x="42.6" y="390.1" font-size="12.32" text-anchor="middle"><tspan font-style="italic">S</tspan><tspan font-size="9.86" dy="5.54">1</tspan></text>
<text x="59.9" y="401.4" font-size="12.32" text-anchor="middle"><tspan font-style="italic">S</tspan><tspan font-size="9.86" dy="5.54">2</tspan></text>
<text x="77.1" y="412.6" font-size="12.32" text-anchor="middle"><tspan font-style="italic">S</tspan><tspan font-size="9.86" dy="5.54">3</tspan></text>
<text x="94.4" y="423.9" font-size="12.32" text-anchor="middle"><tspan font-style="italic">S</tspan><tspan font-size="9.86" dy="5.54">4</tspan></text>
<text transform="translate(221.35,416.65) rotate(-20)" font-size="11.0" text-anchor="middle">Different plans</text>
<text transform="translate(55.5,417.35) rotate(29.5)" font-size="11.0" text-anchor="middle">States of in-wheel motor</text>
<text transform="translate(11.2,321.8) rotate(-90)" font-size="11.0" text-anchor="middle">Recognition rate/%</text>
<rect x="275.1" y="246.60" width="27" height="8.7" fill="#3E26A8" stroke="#111" stroke-width="0.8"/>
<text x="304.0" y="254.85" font-size="10.9">Plan 1</text>
<rect x="275.1" y="259.73" width="27" height="8.7" fill="#475BF9" stroke="#111" stroke-width="0.8"/>
<text x="304.0" y="267.98" font-size="10.9">Plan 2</text>
<rect x="275.1" y="272.86" width="27" height="8.7" fill="#2797EB" stroke="#111" stroke-width="0.8"/>
<text x="304.0" y="281.11" font-size="10.9">Plan 3</text>
<rect x="275.1" y="285.99" width="27" height="8.7" fill="#12BEB9" stroke="#111" stroke-width="0.8"/>
<text x="304.0" y="294.24" font-size="10.9">Plan 4</text>
<rect x="275.1" y="299.12" width="27" height="8.7" fill="#81CC59" stroke="#111" stroke-width="0.8"/>
<text x="304.0" y="307.37" font-size="10.9">Plan 5</text>
<rect x="275.1" y="312.25" width="27" height="8.7" fill="#FBBC3D" stroke="#111" stroke-width="0.8"/>
<text x="304.0" y="320.50" font-size="10.9">Plan 6</text>
<rect x="275.1" y="325.38" width="27" height="8.7" fill="#F9FB15" stroke="#111" stroke-width="0.8"/>
<text x="304.0" y="333.63" font-size="10.9">Plan 7</text></g>
</svg></body></html>
